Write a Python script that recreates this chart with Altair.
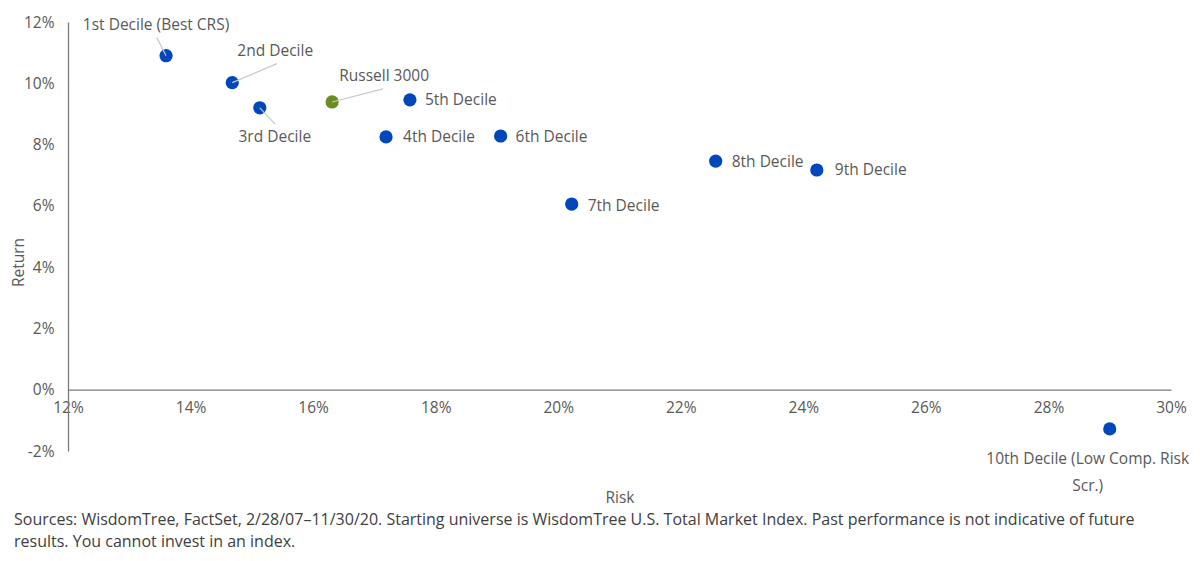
import altair as alt
import pandas as pd

# ---- data ----
NAMES = ["1st Decile (Best CRS)", "2nd Decile", "3rd Decile", "Russell 3000",
         "4th Decile", "5th Decile", "6th Decile", "7th Decile",
         "8th Decile", "9th Decile", "10th Decile (Low Comp. Risk Scr.)"]
LABELS = ["1st Decile (Best CRS)", "2nd Decile", "3rd Decile", "Russell 3000",
          "4th Decile", "5th Decile", "6th Decile", "7th Decile",
          "8th Decile", "9th Decile", "10th Decile (Low Comp. Risk\nScr.)"]
GROUPS = ["Decile", "Decile", "Decile", "Index", "Decile", "Decile", "Decile",
          "Decile", "Decile", "Decile", "Decile"]
RISK = [13.6, 14.68, 15.13, 16.31, 17.19, 17.58, 19.06, 20.22, 22.57, 24.22, 29.0]
RETURN = [10.9, 10.02, 9.2, 9.39, 8.25, 9.46, 8.28, 6.06, 7.46, 7.17, -1.28]

X_TICKS = [12, 14, 16, 18, 20, 22, 24, 26, 28, 30]
Y_TICKS = [-2, 0, 2, 4, 6, 8, 10, 12]

# leader-line far ends (data units) for the labels placed away from their points
LEADER_NAMES = ["1st Decile (Best CRS)", "2nd Decile", "3rd Decile", "Russell 3000"]
LEADER_RISK = [13.45, 15.41, 15.38, 17.14]
LEADER_RET = [11.49, 10.64, 8.67, 9.82]

SOURCES = ["Sources: WisdomTree, FactSet, 2/28/07\u201311/30/20. Starting universe is WisdomTree U.S. Total Market Index. Past performance is not indicative of future",
           "results. You cannot invest in an index."]

# ---- layout / style ----
W, H = 1103, 429
XMIN, XMAX, YMIN, YMAX = 12, 30, -2, 12
FONT = "Open Sans"
BLUE, GREEN = "#0047BB", "#6B8E23"
TXT = "#595959"
AXC = "#7a7a7a"
FS = 15.5

# label placement: name -> (dx, dy, align, baseline)
LABEL_LAYOUT = {
    "1st Decile (Best CRS)": (-10, -31, "center", "middle"),
    "2nd Decile": (43, -32, "center", "middle"),
    "3rd Decile": (15, 29, "center", "middle"),
    "Russell 3000": (52, -26, "center", "middle"),
    "4th Decile": (17, 0, "left", "middle"),
    "5th Decile": (15, 0, "left", "middle"),
    "6th Decile": (15, 1, "left", "middle"),
    "7th Decile": (16, 2, "left", "middle"),
    "8th Decile": (16, 1, "left", "middle"),
    "9th Decile": (18, 0, "left", "middle"),
    "10th Decile (Low Comp. Risk Scr.)": (-22, 23, "center", "top"),
}

df = pd.DataFrame({"name": NAMES, "label": LABELS, "group": GROUPS,
                   "risk": RISK, "ret": RETURN})
lead = pd.DataFrame({"name": LEADER_NAMES, "lx": LEADER_RISK, "ly": LEADER_RET})
lead = lead.merge(df[["name", "risk", "ret"]], on="name")

xscale = alt.Scale(domain=[XMIN, XMAX], nice=False, zero=False)
yscale = alt.Scale(domain=[YMIN, YMAX], nice=False, zero=False)
x_offset = -H * (0 - YMIN) / (YMAX - YMIN)

x_axis = alt.Axis(values=X_TICKS, labelExpr="datum.value + '%'", grid=False, ticks=False,
                  domainColor=AXC, domainWidth=1.3, labelColor=TXT, labelFont=FONT,
                  labelFontSize=FS, labelPadding=11, labelFlush=False, offset=x_offset,
                  title="Risk", titleFont=FONT, titleFontSize=FS, titleFontWeight="normal",
                  titleColor=TXT, titlePadding=74)
y_axis = alt.Axis(values=Y_TICKS, labelExpr="datum.value + '%'", grid=False, ticks=False,
                  domainColor=AXC, domainWidth=1.3, labelColor=TXT, labelFont=FONT,
                  labelFontSize=FS, labelPadding=14,
                  title="Return", titleFont=FONT, titleFontSize=FS, titleFontWeight="normal",
                  titleColor=TXT, titleX=-50, titleY=240, titleAlign="center",
                  titleBaseline="middle", titleAngle=-90)

base = alt.Chart(df)
points = base.mark_circle(size=175, opacity=1).encode(
    x=alt.X("risk:Q", scale=xscale, axis=x_axis),
    y=alt.Y("ret:Q", scale=yscale, axis=y_axis),
    color=alt.Color("group:N", scale=alt.Scale(domain=["Decile", "Index"], range=[BLUE, GREEN]),
                    legend=None),
)

leaders = alt.Chart(lead).mark_rule(color="#C8C8C8", strokeWidth=1.2).encode(
    x=alt.X("risk:Q", scale=xscale), y=alt.Y("ret:Q", scale=yscale),
    x2="lx:Q", y2="ly:Q",
)

layers = [points, leaders]
for name, (dx, dy, align, baseline) in LABEL_LAYOUT.items():
    layers.append(
        base.transform_filter(alt.datum.name == name).mark_text(
            dx=dx, dy=dy, align=align, baseline=baseline, font=FONT, fontSize=FS,
            color=TXT, lineBreak="\n", lineHeight=27,
        ).encode(x=alt.X("risk:Q", scale=xscale), y=alt.Y("ret:Q", scale=yscale),
                 text="label:N")
    )

chart = alt.layer(*layers).properties(
    width=W, height=H,
    autosize=alt.AutoSizeParams(type="none"),
    padding={"left": 60, "top": 14, "right": 21, "bottom": 102},
    title=alt.TitleParams(text=SOURCES, orient="bottom", anchor="start", frame="group",
                          dx=-54, dy=-3, offset=9, font=FONT, fontSize=16, fontWeight="normal",
                          color="#404040", lineHeight=22),
).configure_view(stroke=None)

chart.save("out.html", embed_options={"renderer": "svg", "actions": False})
